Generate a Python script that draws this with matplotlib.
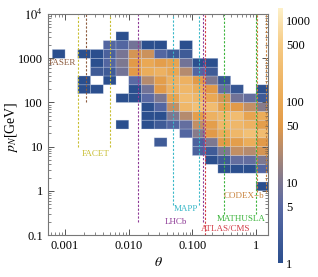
import numpy as np
import matplotlib
matplotlib.use("Agg")
import matplotlib.pyplot as plt
from matplotlib.colors import LinearSegmentedColormap, LogNorm
from matplotlib.ticker import LogLocator, NullFormatter

plt.rcParams['font.family'] = ['Liberation Serif', 'DejaVu Serif']
plt.rcParams['mathtext.fontset'] = 'stix'

# histogram bins, log10 spaced (0.2 decades)
theta_edges = 10 ** np.linspace(-3.2, 0.2, 18)
p_edges = 10 ** np.linspace(0.0, 3.6, 19)

# counts per cell, rows from top (p in [10^3.4,10^3.6]) down to p in [1,10^0.2]
counts_top_down = [
    [0, 0, 0, 0, 0, 1, 0, 0, 0, 0, 0, 0, 0, 0, 0, 0, 0],
    [0, 0, 0, 0, 4, 4, 8, 1, 1, 0, 1, 0, 0, 0, 0, 0, 0],
    [1, 0, 1, 1, 3, 9, 40, 35, 4, 2, 2, 0, 0, 0, 0, 0, 0],
    [0, 0, 0, 1, 4, 10, 50, 100, 60, 80, 8, 1, 1, 0, 0, 0, 0],
    [0, 0, 0, 2, 2, 8, 50, 120, 150, 90, 25, 4, 2, 0, 0, 0, 0],
    [0, 0, 1, 0, 1, 0, 5, 25, 60, 150, 150, 50, 10, 1.5, 0, 0, 0],
    [0, 0, 1, 1, 0, 0, 1, 8, 50, 150, 200, 120, 50, 6, 1.5, 0, 1],
    [0, 0, 0, 0, 0, 1, 1, 5, 10, 80, 250, 200, 100, 40, 8, 6, 2],
    [0, 0, 0, 0, 0, 0, 0, 1, 4, 30, 200, 300, 250, 70, 50, 30, 12],
    [0, 0, 0, 0, 0, 0, 0, 1, 1, 10, 25, 60, 150, 200, 250, 80, 120],
    [0, 0, 0, 0, 0, 1, 0, 1, 2, 4, 6, 30, 60, 200, 200, 150, 60],
    [0, 0, 0, 0, 0, 0, 0, 0, 0, 0, 4, 12, 50, 120, 200, 300, 250],
    [0, 0, 0, 0, 0, 0, 0, 0, 2, 0, 0, 3, 10, 50, 60, 120, 50],
    [0, 0, 0, 0, 0, 0, 0, 0, 0, 0, 0, 3, 2, 10, 30, 25, 40],
    [0, 0, 0, 0, 0, 0, 0, 0, 0, 0, 0, 0, 1, 2, 6, 6, 10],
    [0, 0, 0, 0, 0, 0, 0, 0, 0, 0, 0, 0, 0, 1, 1, 1, 4],
    [0, 0, 0, 0, 0, 0, 0, 0, 0, 0, 0, 0, 0, 0, 0, 0, 0],
    [0, 0, 0, 0, 0, 0, 0, 0, 0, 0, 0, 0, 0, 0, 0, 0, 1],
]

# detectors: name, theta lines, lowest p of the lines, colour, label spot
det_names = ['FASER', 'FACET', 'LHCb', 'MAPP', 'ATLAS/CMS', 'MATHUSLA', 'CODEX\u2212b']
det_thetas = [[0.0021], [0.00157, 0.00505], [0.0142, 0.145], [0.049, 0.129],
              [0.158], [0.31, 0.99], [1.03, 1.42]]
det_pmin = [100, 10, 0.2, 0.47, 0.1, 0.3, 0.95]
det_colors = ['#8c5a3c', '#c8be32', '#8e3a96', '#3ab8c8', '#d23c46', '#3cb43c', '#c8823c']
det_label_pos = [(0.00056, 790), (0.00305, 6.8), (0.0556, 0.195), (0.080, 0.38),
                 (0.336, 0.137), (0.577, 0.236), (0.65, 0.77)]

cbar_ticks = [1, 5, 10, 50, 100, 500, 1000]

cmap = LinearSegmentedColormap.from_list('dens', [
    (0.0, '#2b4f8e'), (0.22, '#5a6aa4'), (0.32, '#7e7890'), (0.45, '#b88c6c'),
    (0.54, '#e29a48'), (0.64, '#eaa955'), (0.86, '#f6cb85'), (1.0, '#fdf0c8')])
norm = LogNorm(vmin=1, vmax=1400)

fig = plt.figure(figsize=(3.18, 2.77), dpi=100)
ax = fig.add_axes([0.151, 0.1516, 0.692, 0.7974])

C = np.array(counts_top_down[::-1], dtype=float)
# pcolor drops masked cells, so empty bins get no outline
mesh = ax.pcolor(theta_edges, p_edges, np.ma.masked_equal(C, 0), cmap=cmap, norm=norm,
                 edgecolors=(0.8, 0.84, 0.92, 0.5), linewidth=0.4)

for name, ths, pmin, col, (lx, ly) in zip(det_names, det_thetas, det_pmin, det_colors, det_label_pos):
    for th in ths:
        ax.plot([th, th], [pmin, 1e4], color=col, lw=0.8, ls=(0, (2, 1.5)))
    ha = 'left' if name == 'FASER' else 'center'
    ax.text(lx, ly, name, color=col, fontsize=6.5, ha=ha, va='center')

ax.set_xscale('log')
ax.set_yscale('log')
ax.set_xlim(5.4e-4, 1.54)
ax.set_ylim(0.1, 1e4)

ax.set_xticks([0.001, 0.01, 0.1, 1])
ax.set_xticklabels(['0.001', '0.010', '0.100', '1'])
ax.set_yticks([0.1, 1, 10, 100, 1000, 1e4])
ax.set_yticklabels(['0.1', '1', '10', '100', '1000', r'$10^4$'])
ax.xaxis.set_minor_locator(LogLocator(base=10, subs=np.arange(2, 10), numticks=20))
ax.yaxis.set_minor_locator(LogLocator(base=10, subs=np.arange(2, 10), numticks=20))
ax.xaxis.set_minor_formatter(NullFormatter())
ax.yaxis.set_minor_formatter(NullFormatter())
ax.tick_params(which='both', direction='in', top=True, right=True, labelsize=9, color='#555555')
ax.tick_params(which='major', length=4, width=0.7)
ax.tick_params(which='minor', length=2, width=0.5)
for s in ax.spines.values():
    s.set_color('#777777')
    s.set_linewidth(0.8)

ax.set_xlabel(r'$\theta$', fontsize=10, labelpad=3)
fig.text(0.037, 0.54, r'$p_N$[GeV]', fontsize=10, rotation=90, ha='center', va='center')

cax = fig.add_axes([0.874, 0.0505, 0.016, 0.92])
cb = fig.colorbar(mesh, cax=cax)
cb.set_ticks(cbar_ticks)
cb.set_ticklabels([str(t) for t in cbar_ticks])
cb.ax.minorticks_off()
cb.outline.set_visible(False)
cb.ax.tick_params(length=0, labelsize=9, pad=2)

fig.savefig('out.png', dpi=100)
